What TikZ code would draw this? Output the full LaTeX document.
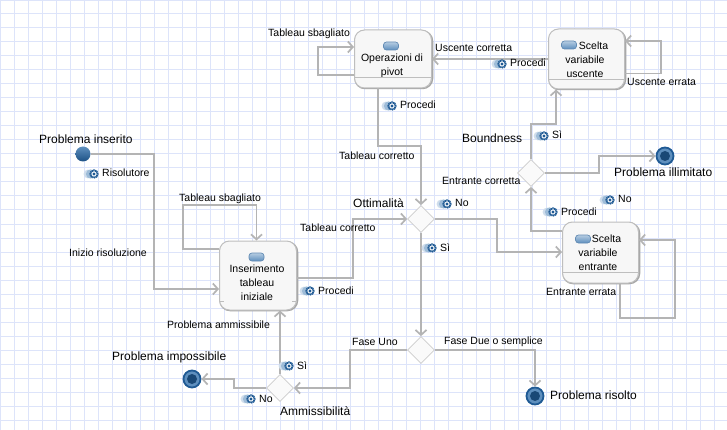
\documentclass[tikz,border=0pt]{standalone}
\usepackage{fontspec}
\setmainfont{Liberation Sans}
\usepackage{tikz}
\usetikzlibrary{arrows.meta, shapes.geometric, calc}

\definecolor{gridblue}{HTML}{DDE4FA}
\definecolor{flowgray}{HTML}{B4B4B4}
\definecolor{boxgray}{HTML}{BEBEBE}
\definecolor{shadegray}{HTML}{A6A6A6}
\definecolor{deepblue}{HTML}{1F5A94}
\definecolor{midblue}{HTML}{5E8FBE}

\tikzset{
	flow/.style={draw=flowgray, line width=1.9pt, -{Straight Barb[length=5pt, width=11pt, line width=1.7pt]}},
	flowplain/.style={draw=flowgray, line width=1.9pt},
	taskbox/.style={rectangle, rounded corners=10pt, draw=boxgray, line width=1pt, fill=white!97!black, align=center, font=\fontsize{10.5}{14}\selectfont, inner sep=0pt},
	gate/.style={diamond, draw=black!20, line width=0.8pt, fill=white!98!black, minimum width=27pt, minimum height=27pt, inner sep=0pt},
	endstate/.style={circle, draw=deepblue, line width=1.8pt, fill=midblue, minimum size=17pt, inner sep=0pt},
	startstate/.style={circle, top color=midblue, bottom color=deepblue!90!black, minimum size=15pt, inner sep=0pt},
	lab/.style={anchor=west, inner sep=0pt, text height=8pt, text depth=2pt, font=\fontsize{10.5}{12}\selectfont},
	statelab/.style={anchor=west, inner sep=0pt, text height=9pt, text depth=2.5pt, font=\fontsize{12}{14}\selectfont}
}

% little cog in front of an action label
\newcommand{\cogicon}[2]{
	\fill[midblue!30] (#1-6,#2) circle (4.4pt);
	\fill[midblue!60] (#1-3.5,#2) circle (4.6pt);
	\draw[deepblue, line width=1.9pt, dash pattern=on 1.2pt off 0.5pt, fill=white] (#1,#2) circle (3.7pt);
	\fill[deepblue] (#1,#2) circle (1.7pt);
}
% pill on top of a task
\newcommand{\pillicon}[2]{
	\draw[deepblue!70, line width=0.7pt, top color=midblue!45, bottom color=midblue, rounded corners=3pt] (#1-7.5,#2-4) rectangle (#1+7.5,#2+4);
}

\begin{document}
\begin{tikzpicture}[x=1pt, y=-1pt]
	\useasboundingbox (0,0) rectangle (727,430);
	\fill[white] (0,0) rectangle (727,430);
	\draw[gridblue, line width=1pt, step=14pt] (0,0) grid (727,430);

	% Bends
	\coordinate (B1) at (154,154);
	\coordinate (B2) at (154,289);
	\coordinate (B3) at (183,249);
	\coordinate (B4) at (183,205);
	\coordinate (B5) at (256.5,205);
	\coordinate (B6) at (353,278);
	\coordinate (B7) at (353,219);
	\coordinate (B8) at (318,75);
	\coordinate (B9) at (318,47);
	\coordinate (B10) at (378,146);
	\coordinate (B11) at (421,146);
	\coordinate (B12) at (661,73.5);
	\coordinate (B13) at (661,41);
	\coordinate (B14) at (531,124);
	\coordinate (B15) at (556,124);
	\coordinate (B16) at (599,173);
	\coordinate (B17) at (599,156);
	\coordinate (B18) at (620,318);
	\coordinate (B19) at (675,318);
	\coordinate (B20) at (675,240);
	\coordinate (B21) at (531,231);
	\coordinate (B22) at (497,219);
	\coordinate (B23) at (497,252);
	\coordinate (B24) at (535,350);
	\coordinate (B25) at (350,350);
	\coordinate (B26) at (350,388);
	\coordinate (B27) at (234,388);
	\coordinate (B28) at (234,379);

	% Shadows of the tasks
	\draw[shadegray, line width=1.5pt, rounded corners=10pt] (220,310.5) rectangle (297.5,242);
	\draw[shadegray, line width=1.5pt, rounded corners=10pt] (355,88.5) rectangle (432.5,31);
	\draw[shadegray, line width=1.5pt, rounded corners=10pt] (549,89.5) rectangle (625.5,30);
	\draw[shadegray, line width=1.5pt, rounded corners=10pt] (563,283.5) rectangle (639.5,223);

	% Tasks
	\node[taskbox, minimum width=77pt, minimum height=69pt] (inserimento) at (258,275.5) {};
	\node[taskbox, minimum width=77pt, minimum height=58pt] (pivot) at (393,59) {};
	\node[taskbox, minimum width=76pt, minimum height=60pt] (uscente) at (586.5,59) {};
	\node[taskbox, minimum width=76pt, minimum height=61pt] (entrante) at (600.5,252.5) {};

	\node[font=\fontsize{10.5}{14}\selectfont, align=center, inner sep=0pt] (insertext) at (257,283) {Inserimento\\tableau\\iniziale};
	\node[font=\fontsize{10.5}{14}\selectfont, align=center, inner sep=0pt] (pivottext) at (392,65.5) {Operazioni di\\pivot};
	\node[font=\fontsize{10.5}{14}\selectfont, align=center, inner sep=0pt] (uscitext) at (585,60) {\hspace{17pt}Scelta\\variabile\\uscente};
	\node[font=\fontsize{10.5}{14}\selectfont, align=center, inner sep=0pt] (entratext) at (598,253) {\hspace{17pt}Scelta\\variabile\\entrante};

	\pillicon{256.5}{257}
	\pillicon{391}{46}
	\pillicon{569}{45}
	\pillicon{583}{239}

	% Lines inside the tasks
	\draw[boxgray, line width=0.8pt] (pivot.west |- 0,77) -- (pivot.east |- 0,77);
	\draw[boxgray, line width=0.8pt] (uscente.west |- 0,79) -- (uscente.east |- 0,79);
	\draw[boxgray, line width=0.8pt] (entrante.west |- 0,272) -- (entrante.east |- 0,272);
	\draw[boxgray, line width=0.8pt] (220,301) -- (224,301) (292,301) -- (296,301);

	% Gateways
	\node[gate] (ottimo) at (421,219) {};
	\node[gate] (fase) at (421,350) {};
	\node[gate] (ammesso) at (280,388) {};
	\node[gate] (bound) at (531,173) {};

	% Start and end states
	\node[startstate] (inizio) at (83,154) {};
	\node[endstate] (illimitato) at (665,156) {};
	\node[endstate] (impossibile) at (192,379) {};
	\node[endstate] (risolto) at (535,396) {};
	\fill[deepblue!80!black] (illimitato) circle (5pt) (impossibile) circle (5pt) (risolto) circle (5pt);

	% Connectors
	\draw[flow] (inizio.east) -- (B1) -- (B2) -- (B2 -| inserimento.west);
	\draw[flow] (B3 -| inserimento.west) -- (B3) -- (B4) -- (B5) -- (B5 |- inserimento.north);
	\draw[flow] (B6 -| inserimento.east) -- (B6) -- (B7) -- (ottimo.west);
	\draw[flow] (B8 -| pivot.west) -- (B8) -- (B9) -- (B9 -| pivot.west);
	\draw[flow] (B10 |- pivot.south) -- (B10) -- (B11) -- (ottimo.north);
	\draw[flow] (uscente.west) -- (uscente.west -| pivot.east);
	\draw[flow] (B12 -| uscente.east) -- (B12) -- (B13) -- (B13 -| uscente.east);
	\draw[flow] (bound.north) -- (B14) -- (B15) -- (B15 |- uscente.south);
	\draw[flow] (bound.east) -- (B16) -- (B17) -- (illimitato.west);
	\draw[flow] (B18 |- entrante.south) -- (B18) -- (B19) -- (B20) -- (B20 -| entrante.east);
	\draw[flow] (B21 -| entrante.west) -- (B21) -- (bound.south);
	\draw[flow] (ottimo.east) -- (B22) -- (B23) -- (B23 -| entrante.west);
	\draw[flow] (ottimo.south) -- (fase.north);
	\draw[flow] (fase.east) -- (B24) -- (risolto.north);
	\draw[flow] (fase.west) -- (B25) -- (B26) -- (ammesso.east);
	\draw[flow] (ammesso.north) -- (ammesso.north |- inserimento.south);
	\draw[flow] (ammesso.west) -- (B27) -- (B28) -- (impossibile.east);

	% State labels
	\node[statelab] (lbinserito) at (39,140) {Problema inserito};
	\node[statelab] (lbimpossibile) at (112,357) {Problema impossibile};
	\node[statelab] (lbillimitato) at (614,173) {Problema illimitato};
	\node[statelab] (lbrisolto) at (550,396) {Problema risolto};
	\node[statelab] (lbottimo) at (353,204) {Ottimalità};
	\node[statelab] (lbbound) at (462,139) {Boundness};
	\node[statelab] (lbammesso) at (280,412) {Ammissibilità};

	% Transition labels
	\node[lab] (lbsbagl1) at (179,198) {Tableau sbagliato};
	\node[lab] (lbsbagl2) at (268,34) {Tableau sbagliato};
	\node[lab] (lbinizio) at (69,253) {Inizio risoluzione};
	\node[lab] (lbcorr1) at (300,228) {Tableau corretto};
	\node[lab] (lbcorr2) at (339,157) {Tableau corretto};
	\node[lab] (lbusccorr) at (435,49) {Uscente corretta};
	\node[lab] (lbuscerr) at (627,83) {Uscente errata};
	\node[lab] (lbentcorr) at (442,182) {Entrante corretta};
	\node[lab] (lbenterr) at (546,292) {Entrante errata};
	\node[lab] (lbuno) at (352,342) {Fase Uno};
	\node[lab] (lbdue) at (444,341) {Fase Due o semplice};
	\node[lab] (lbamm) at (167,325) {Problema ammissibile};

	% Action labels
	\cogicon{94}{174}
	\node[lab] (acrisol) at (102,174) {Risolutore};
	\cogicon{310}{291}
	\node[lab] (acproc1) at (318,291) {Procedi};
	\cogicon{392}{106}
	\node[lab] (acproc2) at (400,106) {Procedi};
	\cogicon{502}{64}
	\node[lab] (acproc3) at (510,64) {Procedi};
	\cogicon{553}{212}
	\node[lab] (acproc4) at (561,212) {Procedi};
	\cogicon{544}{136}
	\node[lab] (acsi1) at (552,136) {Sì};
	\cogicon{610}{200}
	\node[lab] (acno1) at (618,200) {No};
	\cogicon{447}{204}
	\node[lab] (acno2) at (455,204) {No};
	\cogicon{432}{248}
	\node[lab] (acsi2) at (440,248) {Sì};
	\cogicon{289}{366}
	\node[lab] (acsi3) at (297,366) {Sì};
	\cogicon{251}{399}
	\node[lab] (acno3) at (259,399) {No};
\end{tikzpicture}
\end{document}
